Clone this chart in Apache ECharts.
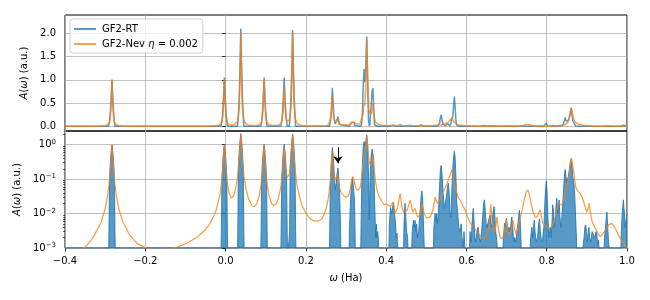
<!DOCTYPE html>
<html>
<head>
<meta charset="utf-8">
<script src="https://cdn.jsdelivr.net/npm/echarts@6/dist/echarts.min.js"></script>
<style>html,body{margin:0;padding:0;background:#fff}#c{width:650px;height:300px}</style>
</head>
<body>
<div id="c"></div>
<script>
// ---- data (omega in Ha, A(omega) in a.u.) ----
const rtPoints = [
[-0.4,0.0005],[-0.2915,0.0005],[-0.2905,0.003],[-0.289,0.1],[-0.287,0.3],[-0.285,0.6],[-0.283,1.0],[-0.281,0.6],[-0.279,0.3],[-0.277,0.1],[-0.2755,0.003],[-0.2745,0.0005],
[-0.0115,0.0005],[-0.0105,0.003],[-0.009,0.105],[-0.007,0.31],[-0.005,0.63],[-0.003,1.05],[-0.001,0.63],[0.001,0.31],[0.003,0.105],[0.0045,0.003],[0.0055,0.0005],
[0.0295,0.0005],[0.0305,0.003],[0.032,0.21],[0.034,0.63],[0.036,1.26],[0.038,2.1],[0.04,1.26],[0.042,0.63],[0.044,0.21],[0.0455,0.003],[0.0465,0.0005],
[0.0875,0.0005],[0.0885,0.003],[0.09,0.105],[0.092,0.31],[0.094,0.63],[0.096,1.05],[0.098,0.63],[0.1,0.31],[0.102,0.105],[0.1035,0.003],[0.1045,0.0005],
[0.1375,0.0005],[0.1385,0.003],[0.14,0.105],[0.142,0.31],[0.144,0.63],[0.146,1.05],[0.148,0.63],[0.15,0.31],[0.152,0.105],[0.1535,0.003],[0.1545,0.0005],
[0.1585,0.0005],[0.1595,0.003],[0.161,0.21],[0.163,0.62],[0.165,1.24],[0.167,2.07],[0.169,1.24],[0.171,0.62],[0.173,0.21],[0.1745,0.003],[0.1755,0.0005],
[0.2585,0.0005],[0.2595,0.003],[0.261,0.08],[0.263,0.25],[0.2645,0.5],[0.266,0.83],[0.268,0.5],[0.27,0.2],[0.273,0.05],[0.276,0.08],[0.278,0.15],[0.28,0.21],[0.282,0.12],[0.284,0.04],[0.286,0.006],[0.2875,0.0005],
[0.3075,0.0005],[0.3085,0.003],[0.311,0.02],[0.314,0.08],[0.316,0.11],[0.318,0.07],[0.32,0.08],[0.3215,0.02],[0.3225,0.003],[0.3235,0.0005],
[0.3365,0.0005],[0.3375,0.004],[0.339,0.05],[0.341,0.3],[0.343,0.9],[0.345,1.23],[0.347,0.95],[0.349,1.2],[0.3515,1.93],[0.354,0.9],[0.356,0.15],[0.358,0.0065],[0.3595,0.05],[0.361,0.25],[0.363,0.5],[0.365,0.75],[0.367,0.82],[0.369,0.4],[0.371,0.03],[0.3725,0.007],[0.374,0.002],[0.3755,0.005],[0.377,0.002],[0.379,0.003],[0.381,0.0015],[0.382,0.0005],
[0.4065,0.0005],[0.408,0.005],[0.411,0.015],[0.413,0.01],[0.416,0.015],[0.418,0.021],[0.42,0.012],[0.423,0.006],[0.425,0.002],[0.427,0.0027],[0.429,0.0008],[0.43,0.0005],
[0.443,0.0005],[0.4445,0.005],[0.447,0.02],[0.449,0.008],[0.451,0.003],[0.4535,0.002],[0.455,0.0005],
[0.463,0.0005],[0.465,0.003],[0.468,0.0064],[0.47,0.004],[0.472,0.0064],[0.474,0.003],[0.476,0.005],[0.478,0.002],[0.481,0.003],[0.4835,0.008],[0.487,0.03],[0.489,0.046],[0.491,0.025],[0.493,0.005],[0.4945,0.0015],[0.496,0.0005],
[0.517,0.0005],[0.519,0.004],[0.522,0.01],[0.524,0.006],[0.526,0.01],[0.528,0.005],[0.53,0.01],[0.533,0.06],[0.535,0.18],[0.537,0.25],[0.539,0.15],[0.542,0.04],[0.545,0.014],[0.547,0.014],[0.55,0.03],[0.553,0.06],[0.555,0.076],[0.557,0.04],[0.559,0.01],[0.561,0.008],[0.563,0.03],[0.566,0.2],[0.568,0.45],[0.57,0.64],[0.572,0.4],[0.574,0.1],[0.576,0.02],[0.578,0.011],[0.581,0.004],[0.584,0.003],[0.587,0.005],[0.589,0.002],[0.592,0.001],[0.594,0.003],[0.596,0.001],[0.5975,0.0005],
[0.607,0.0005],[0.609,0.003],[0.611,0.0015],[0.613,0.003],[0.615,0.008],[0.617,0.014],[0.619,0.006],[0.621,0.002],[0.623,0.0015],[0.626,0.003],[0.629,0.004],[0.632,0.002],[0.635,0.0015],[0.638,0.003],[0.641,0.01],[0.643,0.02],[0.645,0.025],[0.647,0.012],[0.649,0.005],[0.651,0.004],[0.653,0.005],[0.656,0.007],[0.659,0.009],[0.661,0.005],[0.663,0.004],[0.666,0.01],[0.669,0.016],[0.671,0.008],[0.673,0.003],[0.676,0.0015],[0.678,0.0005],
[0.69,0.0005],[0.692,0.002],[0.695,0.0052],[0.697,0.004],[0.7,0.0073],[0.703,0.003],[0.706,0.004],[0.709,0.003],[0.711,0.005],[0.713,0.008],[0.715,0.004],[0.718,0.0015],[0.72,0.002],[0.723,0.0015],[0.726,0.003],[0.729,0.006],[0.732,0.0126],[0.734,0.006],[0.736,0.0015],[0.737,0.0005],
[0.758,0.0005],[0.76,0.002],[0.763,0.004],[0.765,0.002],[0.767,0.004],[0.769,0.0065],[0.771,0.003],[0.774,0.0015],[0.777,0.002],[0.78,0.005],[0.782,0.007],[0.784,0.003],[0.787,0.0015],[0.79,0.002],[0.793,0.004],[0.796,0.03],[0.798,0.07],[0.799,0.089],[0.801,0.04],[0.803,0.008],[0.805,0.002],[0.807,0.002],[0.809,0.004],[0.811,0.002],[0.813,0.005],[0.815,0.018],[0.817,0.012],[0.819,0.004],[0.821,0.006],[0.823,0.015],[0.825,0.028],[0.827,0.01],[0.829,0.02],[0.831,0.025],[0.833,0.008],[0.835,0.004],[0.837,0.006],[0.839,0.012],[0.842,0.05],[0.844,0.12],[0.846,0.19],[0.848,0.12],[0.85,0.08],[0.852,0.1],[0.854,0.12],[0.856,0.18],[0.859,0.32],[0.861,0.39],[0.863,0.25],[0.865,0.12],[0.868,0.07],[0.87,0.03],[0.872,0.008],[0.874,0.002],[0.875,0.0005],
[0.888,0.0005],[0.89,0.001],[0.893,0.002],[0.895,0.004],[0.897,0.0047],[0.899,0.003],[0.901,0.0015],[0.903,0.0025],[0.905,0.004],[0.907,0.002],[0.91,0.0015],[0.913,0.003],[0.916,0.0025],[0.92,0.002],[0.923,0.003],[0.925,0.0025],[0.927,0.0012],[0.929,0.0017],[0.931,0.0008],[0.932,0.0005],
[0.942,0.0005],[0.944,0.002],[0.947,0.005],[0.95,0.011],[0.952,0.004],[0.954,0.0015],[0.956,0.001],[0.957,0.0005],
[0.984,0.0005],[0.986,0.003],[0.988,0.01],[0.991,0.025],[0.993,0.012],[0.995,0.004],[0.997,0.006],[1.0,0.01]
];
const nevPoints = [
[-0.4,0.0004],[-0.36,0.0008],[-0.35,0.00104],[-0.33,0.002],[-0.31,0.0056],[-0.3,0.0138],[-0.295,0.027],[-0.29,0.076],[-0.287,0.2],[-0.285,0.5],[-0.283,1.0],[-0.281,0.5],[-0.279,0.2],[-0.276,0.076],[-0.271,0.027],[-0.266,0.0138],[-0.256,0.0058],[-0.24,0.0025],[-0.22,0.00134],[-0.2,0.00101],[-0.17,0.00085],[-0.138,0.00092],[-0.1,0.0013],[-0.07,0.0021],[-0.05,0.0034],[-0.039,0.0051],[-0.025,0.011],[-0.015,0.0306],[-0.01,0.08],[-0.007,0.204],[-0.005,0.504],[-0.003,1.0],[-0.001,0.505],[0.001,0.206],[0.004,0.083],[0.009,0.0375],[0.015,0.028],[0.02,0.033],[0.025,0.052],[0.03,0.123],[0.034,0.403],[0.036,1.0],[0.038,2.0],[0.04,1.0],[0.042,0.403],[0.046,0.122],[0.051,0.05],[0.058,0.0247],[0.067,0.0163],[0.072,0.0159],[0.078,0.0195],[0.084,0.033],[0.089,0.081],[0.092,0.206],[0.094,0.505],[0.096,1.0],[0.098,0.505],[0.1,0.206],[0.103,0.082],[0.108,0.0337],[0.115,0.0193],[0.12,0.0171],[0.126,0.019],[0.132,0.028],[0.138,0.064],[0.142,0.19],[0.144,0.453],[0.146,0.88],[0.148,0.46],[0.15,0.2],[0.153,0.108],[0.156,0.1],[0.159,0.14],[0.163,0.41],[0.165,1.01],[0.167,2.0],[0.169,1.0],[0.171,0.4],[0.174,0.156],[0.178,0.068],[0.184,0.031],[0.19,0.0175],[0.2,0.0103],[0.21,0.0072],[0.22,0.0061],[0.23,0.006],[0.24,0.007],[0.25,0.013],[0.256,0.028],[0.26,0.068],[0.263,0.205],[0.266,0.65],[0.269,0.22],[0.272,0.09],[0.276,0.08],[0.279,0.14],[0.283,0.06],[0.288,0.04],[0.294,0.033],[0.3,0.03],[0.305,0.032],[0.31,0.045],[0.314,0.09],[0.317,0.12],[0.32,0.09],[0.325,0.052],[0.33,0.048],[0.335,0.056],[0.338,0.09],[0.342,0.25],[0.345,0.5],[0.347,0.45],[0.35,1.0],[0.352,1.87],[0.354,1.0],[0.357,0.35],[0.361,0.25],[0.364,0.3],[0.367,0.5],[0.37,0.2],[0.374,0.08],[0.378,0.045],[0.383,0.03],[0.39,0.022],[0.395,0.018],[0.401,0.019],[0.41,0.016],[0.418,0.022],[0.422,0.01],[0.428,0.014],[0.435,0.039],[0.439,0.016],[0.443,0.011],[0.452,0.012],[0.46,0.025],[0.466,0.011],[0.472,0.014],[0.478,0.008],[0.484,0.009],[0.489,0.02],[0.494,0.01],[0.501,0.0073],[0.51,0.008],[0.516,0.012],[0.522,0.03],[0.527,0.02],[0.532,0.022],[0.537,0.03],[0.543,0.044],[0.55,0.065],[0.555,0.095],[0.56,0.14],[0.564,0.19],[0.568,0.1],[0.572,0.061],[0.576,0.04],[0.58,0.028],[0.585,0.024],[0.588,0.025],[0.592,0.016],[0.597,0.0126],[0.603,0.008],[0.609,0.0055],[0.615,0.0045],[0.622,0.0035],[0.63,0.0026],[0.638,0.002],[0.645,0.0019],[0.651,0.0024],[0.656,0.004],[0.659,0.01],[0.661,0.019],[0.663,0.008],[0.666,0.0035],[0.67,0.003],[0.673,0.004],[0.676,0.008],[0.679,0.004],[0.684,0.002],[0.69,0.0019],[0.695,0.003],[0.699,0.0065],[0.703,0.003],[0.707,0.0024],[0.712,0.0035],[0.716,0.0065],[0.72,0.0035],[0.724,0.0025],[0.729,0.004],[0.734,0.0073],[0.739,0.013],[0.744,0.025],[0.749,0.042],[0.753,0.049],[0.757,0.035],[0.761,0.02],[0.766,0.011],[0.771,0.008],[0.776,0.008],[0.781,0.011],[0.784,0.0126],[0.787,0.008],[0.79,0.0052],[0.796,0.0045],[0.802,0.004],[0.808,0.0037],[0.814,0.0045],[0.821,0.0075],[0.826,0.014],[0.829,0.02],[0.833,0.02],[0.838,0.018],[0.842,0.025],[0.846,0.039],[0.851,0.07],[0.854,0.107],[0.858,0.22],[0.861,0.41],[0.864,0.28],[0.867,0.17],[0.87,0.09],[0.873,0.055],[0.878,0.045],[0.883,0.039],[0.888,0.03],[0.892,0.022],[0.896,0.015],[0.9,0.011],[0.903,0.014],[0.906,0.02],[0.909,0.01],[0.914,0.0055],[0.921,0.0037],[0.927,0.0028],[0.933,0.0021],[0.941,0.0027],[0.948,0.0035],[0.954,0.0047],[0.962,0.0052],[0.967,0.0045],[0.971,0.0037],[0.977,0.0026],[0.983,0.0019],[0.99,0.0014],[0.996,0.0011],[1.0,0.0009]
];
const seriesNames = ['GF2-RT', 'GF2-Nev'];
const linTicks = [0.0, 0.5, 1.0, 1.5, 2.0];
const logTicks = [0.001, 0.01, 0.1, 1];
const logMinorTicks = [0.002,0.003,0.004,0.005,0.006,0.007,0.008,0.009,0.02,0.03,0.04,0.05,0.06,0.07,0.08,0.09,0.2,0.3,0.4,0.5,0.6,0.7,0.8,0.9,2];
const arrowOmega = 0.28, arrowTop = 0.84, arrowTip = 0.29;

const FONT = 'DejaVu Sans';
const BLUE = '#1f77b4', ORANGE = '#ff7f0e';
const gridLine = {show: true, lineStyle: {color: '#b0b0b0', width: 0.8}};
const tickStyle = {show: true, inside: false, length: 3.5, lineStyle: {color: '#000', width: 0.8}};
const lblStyle = {color: '#000', fontFamily: FONT, fontSize: 10};
const fmtX = v => (v < -1e-9 ? '\u2212' : '') + Math.abs(v).toFixed(1);
const sup = e => '10{s|' + (e < 0 ? '\u2212' + (-e) : String(e)) + '}';
const yName = {
  name: '{i|A}({i|\u03c9}) (a.u.)', nameLocation: 'middle', nameRotate: 90, nameGap: 25,
  nameTextStyle: {color: '#000', fontFamily: FONT, fontSize: 10,
    rich: {i: {fontStyle: 'italic', fontFamily: FONT, fontSize: 10, color: '#000'}}}
};

const chart = echarts.init(document.getElementById('c'), null, {renderer: 'canvas'});
chart.setOption({
  animation: false,
  backgroundColor: '#fff',
  grid: [
    {left: 65, right: 23, top: 15, height: 116, show: true, borderColor: '#000', borderWidth: 1, backgroundColor: 'transparent'},
    {left: 65, right: 23, top: 131, height: 117, show: true, borderColor: '#000', borderWidth: 1, backgroundColor: 'transparent'}
  ],
  legend: {
    data: seriesNames,
    orient: 'vertical', left: 70, top: 19,
    itemWidth: 22, itemHeight: 2, itemGap: 5, icon: 'rect',
    padding: [5, 5, 4, 4],
    borderColor: '#d0d0d0', borderWidth: 1, borderRadius: 3,
    backgroundColor: 'rgba(255,255,255,0.8)',
    formatter: n => n === 'GF2-Nev' ? 'GF2-Nev {i|\u03b7} = 0.002' : n,
    textStyle: {color: '#000', fontFamily: FONT, fontSize: 10, padding: [0, 0, 0, 1],
      rich: {i: {fontStyle: 'italic', fontFamily: FONT, fontSize: 10, color: '#000'}}}
  },
  xAxis: [
    {type: 'value', gridIndex: 0, min: -0.4, max: 1.0, interval: 0.2,
     axisLine: {show: false}, axisTick: {show: false}, axisLabel: {show: false}, splitLine: gridLine},
    {type: 'value', gridIndex: 1, min: -0.4, max: 1.0, interval: 0.2,
     axisLine: {show: false}, axisTick: tickStyle,
     axisLabel: Object.assign({formatter: fmtX, margin: 8}, lblStyle), splitLine: gridLine,
     name: '{i|\u03c9} (Ha)', nameLocation: 'middle', nameGap: 25,
     nameTextStyle: {color: '#000', fontFamily: FONT, fontSize: 10,
       rich: {i: {fontStyle: 'italic', fontFamily: FONT, fontSize: 10, color: '#000'}}}}
  ],
  yAxis: [
    Object.assign({type: 'value', gridIndex: 0, min: -0.1, max: 2.39, splitNumber: 5,
     axisLine: {show: false},
     axisTick: Object.assign({customValues: linTicks}, tickStyle),
     axisLabel: Object.assign({customValues: linTicks, margin: 9,
       formatter: v => Math.abs(v * 2 - Math.round(v * 2)) < 1e-6 ? v.toFixed(1) : ''}, lblStyle),
     splitLine: gridLine}, yName),
    Object.assign({type: 'log', logBase: 10, gridIndex: 1, min: 0.001, max: 2.5, position: 'left',
     axisLine: {show: false},
     axisTick: Object.assign({customValues: logTicks}, tickStyle),
     axisLabel: Object.assign({customValues: logTicks, margin: 9,
       formatter: v => { const e = Math.round(Math.log10(v)); return Math.abs(Math.log10(v) - e) < 0.01 ? sup(e) : ''; },
       rich: {s: {fontSize: 7, fontFamily: FONT, color: '#000', verticalAlign: 'top', padding: [0, 0, 5, 0]}}}, lblStyle),
     splitLine: gridLine}, yName),
    {type: 'log', logBase: 10, gridIndex: 1, min: 0.001, max: 2.5, position: 'left', offset: 0,
     axisLine: {show: false},
     axisTick: {show: true, inside: false, length: 2, customValues: logMinorTicks, lineStyle: {color: '#000', width: 0.6}},
     axisLabel: {show: false}, splitLine: {show: false}}
  ],
  series: [
    {name: 'GF2-RT', type: 'line', xAxisIndex: 0, yAxisIndex: 0, data: rtPoints,
     showSymbol: false, symbol: 'none', z: 3,
     itemStyle: {color: BLUE, opacity: 0.75},
     lineStyle: {color: BLUE, width: 1.5, opacity: 0.75}},
    {name: 'GF2-Nev', type: 'line', xAxisIndex: 0, yAxisIndex: 0, data: nevPoints,
     showSymbol: false, symbol: 'none', z: 4,
     itemStyle: {color: ORANGE, opacity: 0.75},
     lineStyle: {color: ORANGE, width: 1.5, opacity: 0.75}},
    {name: 'GF2-RT', type: 'line', xAxisIndex: 1, yAxisIndex: 1, data: rtPoints,
     showSymbol: false, symbol: 'none', z: 3,
     itemStyle: {color: BLUE},
     lineStyle: {color: BLUE, width: 1, opacity: 0.85},
     areaStyle: {color: BLUE, opacity: 0.75, origin: 'start'}},
    {name: 'GF2-Nev', type: 'line', xAxisIndex: 1, yAxisIndex: 1, data: nevPoints,
     showSymbol: false, symbol: 'none', z: 4,
     itemStyle: {color: ORANGE},
     lineStyle: {color: ORANGE, width: 1.2, opacity: 0.8},
     markLine: {silent: true, symbol: ['none', 'arrow'], symbolSize: 7, animation: false, z: 10,
       label: {show: false}, lineStyle: {color: '#000', width: 1, type: 'solid', opacity: 1},
       itemStyle: {color: '#000'},
       emphasis: {disabled: true},
       data: [[{coord: [arrowOmega, arrowTop]}, {coord: [arrowOmega, arrowTip]}]]}}
  ]
});
</script>
</body>
</html>
